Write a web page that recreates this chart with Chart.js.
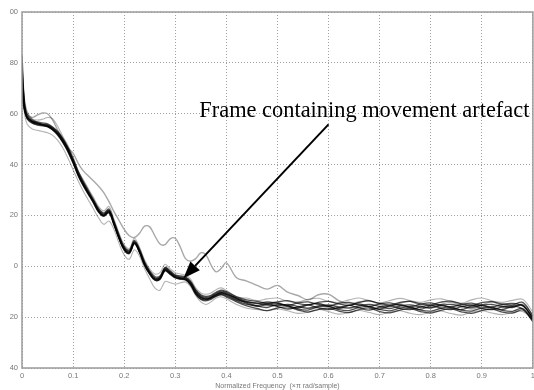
<!DOCTYPE html>
<html>
<head>
  <meta charset="UTF-8">
  <title>Spectra</title>
  <script src="https://cdn.jsdelivr.net/npm/chart.js"></script>
  <style>
    body { margin: 0; background: #fff; overflow: hidden; }
    .wrap { width: 538px; height: 390px; position: relative; }
  </style>
</head>
<body>
<div class="wrap"><canvas id="chart"></canvas></div>

<script>
  // normalized frequency (x pi rad/sample)
  const freq = [0, 0.005, 0.01, 0.02, 0.03, 0.04, 0.05, 0.06, 0.07, 0.08, 0.09, 0.10, 0.11, 0.12, 0.13, 0.14,
    0.15, 0.16, 0.17, 0.18, 0.19, 0.20, 0.21, 0.22, 0.23, 0.24, 0.25, 0.26, 0.27, 0.28, 0.29, 0.30, 0.31, 0.32,
    0.33, 0.34, 0.35, 0.36, 0.37, 0.38, 0.39, 0.40, 0.42, 0.44, 0.46, 0.48, 0.50, 0.52, 0.54, 0.56, 0.58, 0.60,
    0.62, 0.64, 0.66, 0.68, 0.70, 0.72, 0.74, 0.76, 0.78, 0.80, 0.82, 0.84, 0.86, 0.88, 0.90, 0.92, 0.94, 0.96,
    0.98, 1.00];

  // normal frames (dark bundle)
  const frame1 = [83, 63, 59, 57, 56.2, 55.8, 55.4, 54.2, 52.3, 49.5, 46, 41.5, 36.5, 32.5, 29, 25.5, 22, 20.3, 21.8, 17,
    11.5, 7, 5.7, 9.5, 6, 1, -2.5, -4.8, -4.5, -1, -2.5, -4, -4.5, -4.8, -6.5, -10, -12, -12.6, -12.2, -11, -10.2, -10.8,
    -12.8, -14, -14.5, -15.2, -15.5, -15, -15.8, -16.5, -15.6, -15.2, -16, -16.4, -15.5, -15, -15.8, -16.6, -15.6, -15.2,
    -16, -16.3, -15.4, -15, -15.8, -16.2, -15.3, -15, -15.9, -16.2, -15.4, -20.5];
  const frame2 = [80, 62, 58.2, 56.5, 55.5, 55.2, 54.8, 53.6, 51.5, 48.6, 45, 40.5, 35.5, 31.6, 28.2, 24.8, 21.2, 19.6, 21, 16.2,
    10.8, 6.4, 5, 8.8, 5.4, 0.2, -3.2, -5.5, -5.2, -1.8, -3.2, -4.6, -5, -5.4, -7.2, -10.8, -12.8, -13.2, -12.6, -11.6, -11, -11.6,
    -13.5, -15, -15.4, -14.6, -15.8, -16.8, -16, -15.2, -16.4, -17, -16.2, -15.4, -16.4, -17.2, -16.1, -15.5, -16.6, -17,
    -16, -15.4, -16.5, -17, -15.9, -15.3, -16.6, -17, -16, -15.6, -16.8, -21];
  const frame3 = [78, 64, 59.8, 57.6, 56.8, 56.4, 56, 54.8, 53, 50.3, 46.8, 42.4, 37.4, 33.4, 29.8, 26.2, 22.8, 21, 22.5, 17.8,
    12.3, 7.8, 6.4, 10.2, 6.8, 1.8, -1.8, -4, -3.8, -0.4, -1.8, -3.4, -3.8, -4.2, -5.8, -9.2, -11.2, -11.8, -11.4, -10.2, -9.4, -10,
    -12, -13.2, -13.8, -14.5, -14, -13.5, -14.6, -15.2, -14.2, -13.8, -14.8, -15.4, -14.2, -13.6, -14.6, -15.2, -14.2, -13.8,
    -14.8, -15.2, -14.1, -13.7, -14.8, -15.3, -14.3, -13.9, -14.9, -15.2, -14.2, -19.5];
  const frame4 = [74, 62.5, 58.6, 56.8, 56, 55.5, 55, 53.9, 52, 49, 45.5, 41, 36, 32, 28.6, 25.2, 21.6, 19.9, 21.4, 16.6,
    11, 6.7, 5.3, 9.1, 5.6, 0.6, -2.9, -5.2, -4.9, -1.4, -2.9, -4.3, -4.8, -5.1, -7, -10.5, -12.4, -13, -12.4, -11.3, -10.6, -11.2,
    -13.2, -14.2, -15.6, -16.2, -15, -15.6, -16.8, -17.2, -16, -15.8, -17, -17.4, -16.2, -15.8, -17, -17.5, -16.4, -16,
    -17.2, -17.6, -16.5, -16, -17.2, -17.6, -16.4, -16.1, -17.3, -17.7, -16.6, -21.5];
  const frame5 = [70, 61.5, 58, 56.3, 55.8, 55.6, 55.2, 54, 52, 49.2, 45.8, 41.2, 36.2, 32.2, 28.8, 25.4, 21.8, 20.1, 21.6, 16.8,
    11.2, 6.8, 5.5, 9.3, 5.8, 0.8, -2.7, -5, -4.7, -1.2, -2.7, -4.2, -4.7, -5, -6.8, -10.3, -12.2, -12.8, -12.3, -11.2, -10.4, -11,
    -12.4, -13.8, -14.6, -14, -14.6, -15.4, -14.4, -14, -15, -15.6, -14.6, -14.2, -15.2, -15.8, -14.8, -14.4, -15.4, -16,
    -14.9, -14.4, -15.5, -16, -15, -14.5, -15.5, -16, -15, -14.6, -15.6, -20];
  const frame6 = [66, 61, 58.4, 56.9, 56.4, 55.9, 55.6, 54.5, 52.6, 49.8, 46.3, 41.8, 36.8, 32.8, 29.3, 25.8, 22.3, 20.6, 22, 17.3,
    11.8, 7.3, 6, 9.8, 6.3, 1.3, -2.2, -4.5, -4.2, -0.7, -2.2, -3.7, -4.2, -4.5, -6.2, -9.6, -11.6, -12.2, -11.8, -10.6, -9.8, -10.4,
    -12.6, -14.6, -15.8, -15, -14.4, -15.6, -16.4, -15.2, -14.6, -15.8, -16.6, -15.4, -14.8, -16, -16.8, -15.6, -15, -16.2,
    -16.9, -15.6, -15.1, -16.3, -17, -15.7, -15.2, -16.4, -17, -15.8, -15.3, -20.8];
  const frame7 = [68, 62, 58.8, 57.2, 56.5, 55.6, 55, 53.6, 51.8, 48.8, 45.2, 40.8, 35.8, 31.8, 28.4, 25, 21.4, 19.8, 21.2, 16.4,
    10.9, 6.5, 5.2, 9, 5.5, 0.4, -3, -5.4, -5, -1.6, -3, -4.4, -5, -5.3, -7.4, -11, -13, -13.6, -13, -11.8, -11.2, -12,
    -14, -15.6, -16.6, -17.4, -16.4, -16, -17.2, -18, -17, -16.5, -17.6, -18.2, -17, -16.4, -17.8, -18.3, -17.2, -16.6,
    -17.8, -18.4, -17.3, -16.7, -17.9, -18.5, -17.4, -16.8, -18, -18.4, -17.2, -21.8];

  // lighter frames
  const upperFrame = [76, 66, 61, 58, 57.5, 57.8, 58.5, 58, 55, 51, 47.5, 43, 37.5, 34, 30.5, 27, 23.5, 21.8, 23.5, 18.5,
    13, 8.5, 7, 11, 7.5, 2.5, -1, -3, -2.5, 0.8, -1, -2.5, -3, -3.5, -5, -8.5, -10.5, -11, -10.5, -9.2, -8.5, -9.5,
    -12, -12.5, -13.5, -12.8, -12.5, -13.8, -14, -13, -12.6, -13.8, -14.2, -13.2, -12.5, -13.6, -14.4, -13.5, -12.6, -13.5,
    -14.2, -13.2, -12.8, -13.8, -14.5, -13.2, -12.5, -13.6, -14.2, -13.4, -13, -18];
  const lowerFrame = [70, 60, 56, 54, 53.5, 53, 52.5, 51.5, 49.5, 46.5, 42.5, 38, 33.5, 29.5, 26, 22.5, 19, 16.5, 17.8, 14.5,
    9, 4.5, 2.8, 6.5, 4, -1, -5, -8.5, -9.4, -6, -6.5, -7, -6.5, -6.2, -8, -11.5, -14, -15, -14, -12.5, -12, -12.8,
    -15, -16.5, -17, -17.5, -16.8, -17.5, -18.5, -18, -17, -17.8, -18.8, -18.2, -17.4, -18.2, -19, -18, -17.5, -18.5,
    -19, -18, -17.6, -18.6, -19.2, -18, -17.5, -18.4, -19, -18.2, -17.8, -21];
  // frame with the movement artefact
  const artefactFrame = [72, 64, 60, 58.5, 59.5, 60.3, 60, 57.5, 53.5, 50, 46.5, 44.5, 40.5, 37.5, 35.5, 33.5, 31.5, 29, 25.5, 21.5,
    18, 14.5, 12, 11.3, 13, 15.8, 15.5, 12, 8.8, 8.5, 10.8, 11, 7.5, 3, 2, 3, 5.3, 4.5, 0.5, -2.2, -0.8, 1.4,
    -4.5, -5.8, -7.5, -9, -7.5, -10.2, -11.5, -13.2, -11.2, -11, -13.5, -14.8, -14, -13.5, -15, -15.8, -14.5, -13.8,
    -15.5, -16.5, -15, -14.2, -15.5, -16.8, -15.2, -14, -15.5, -16, -15, -19];

  const xTickLabels = ['0', '0.1', '0.2', '0.3', '0.4', '0.5', '0.6', '0.7', '0.8', '0.9', '1'];
  const yTickLabels = ['40', '20', '0', '20', '40', '60', '80', '00'];

  const note = {
    text: 'Frame containing movement artefact',
    x: 0.347, y: 58.7,
    fromX: 0.6, fromY: 55.8,
    toX: 0.316, toY: -4.7
  };

  function pts(arr) {
    return arr.map((v, i) => ({ x: freq[i], y: v }));
  }

  function line(arr, color, width) {
    return {
      data: pts(arr),
      borderColor: color,
      borderWidth: width,
      pointRadius: 0,
      tension: 0.35,
      fill: false
    };
  }

  const dark = 'rgba(0,0,0,0.68)';
  const light = 'rgba(0,0,0,0.3)';

  const decor = {
    id: 'decor',
    afterDatasetsDraw(chart) {
      const { ctx, chartArea: a, scales: { x, y } } = chart;
      ctx.save();
      // frame box
      ctx.strokeStyle = '#9a9a9a';
      ctx.lineWidth = 1.5;
      ctx.strokeRect(a.left, a.top, a.right - a.left, a.bottom - a.top);

      // arrow
      const x1 = x.getPixelForValue(note.fromX), y1 = y.getPixelForValue(note.fromY);
      const x2 = x.getPixelForValue(note.toX), y2 = y.getPixelForValue(note.toY);
      const ang = Math.atan2(y2 - y1, x2 - x1);
      const len = 17, half = 6.5;
      const bx = x2 - len * Math.cos(ang), by = y2 - len * Math.sin(ang);
      ctx.strokeStyle = '#000';
      ctx.lineWidth = 2;
      ctx.beginPath();
      ctx.moveTo(x1, y1);
      ctx.lineTo(bx, by);
      ctx.stroke();
      ctx.fillStyle = '#000';
      ctx.beginPath();
      ctx.moveTo(x2, y2);
      ctx.lineTo(bx + half * Math.sin(ang), by - half * Math.cos(ang));
      ctx.lineTo(bx - half * Math.sin(ang), by + half * Math.cos(ang));
      ctx.closePath();
      ctx.fill();

      // label
      ctx.font = '22.4px "Liberation Serif", "DejaVu Serif", serif';
      ctx.textBaseline = 'alphabetic';
      ctx.textAlign = 'left';
      ctx.fillText(note.text, x.getPixelForValue(note.x), y.getPixelForValue(note.y));
      ctx.restore();
    }
  };

  const tickFont = { family: '"Liberation Sans", Arial, sans-serif', size: 7.5 };

  new Chart(document.getElementById('chart'), {
    type: 'line',
    data: {
      datasets: [
        line(frame1, dark, 1.4),
        line(frame2, dark, 1.3),
        line(frame3, dark, 1.3),
        line(frame4, dark, 1.3),
        line(frame5, dark, 1.3),
        line(frame6, dark, 1.3),
        line(frame7, dark, 1.3),
        line(upperFrame, light, 1.1),
        line(lowerFrame, light, 1.1),
        line(artefactFrame, '#a8a8a8', 1.4)
      ]
    },
    options: {
      responsive: true,
      maintainAspectRatio: false,
      animation: false,
      layout: { padding: { top: 12, right: 0, left: 0, bottom: 0 } },
      plugins: {
        legend: { display: false },
        tooltip: { enabled: false }
      },
      scales: {
        x: {
          type: 'linear',
          min: 0,
          max: 1,
          ticks: {
            stepSize: 0.1,
            padding: 3,
            color: '#777',
            font: tickFont,
            maxRotation: 0,
            callback: (v, i) => xTickLabels[i]
          },
          grid: { color: '#a0a0a0', lineWidth: 1, drawTicks: false },
          border: { display: false, dash: [1, 2] },
          title: {
            display: true,
            text: 'Normalized Frequency  (×π rad/sample)',
            color: '#777',
            font: { family: '"Liberation Sans", Arial, sans-serif', size: 7 },
            padding: { top: 0, bottom: 0 }
          },
          afterFit(scale) { scale.height = 22; }
        },
        y: {
          min: -40,
          max: 100,
          ticks: {
            stepSize: 20,
            padding: 4,
            color: '#777',
            font: tickFont,
            callback: (v, i) => yTickLabels[i]
          },
          grid: { color: '#a0a0a0', lineWidth: 1, drawTicks: false },
          border: { display: false, dash: [1, 2] },
          afterFit(scale) { scale.width = 22; }
        }
      }
    },
    plugins: [decor]
  });
</script>
</body>
</html>
